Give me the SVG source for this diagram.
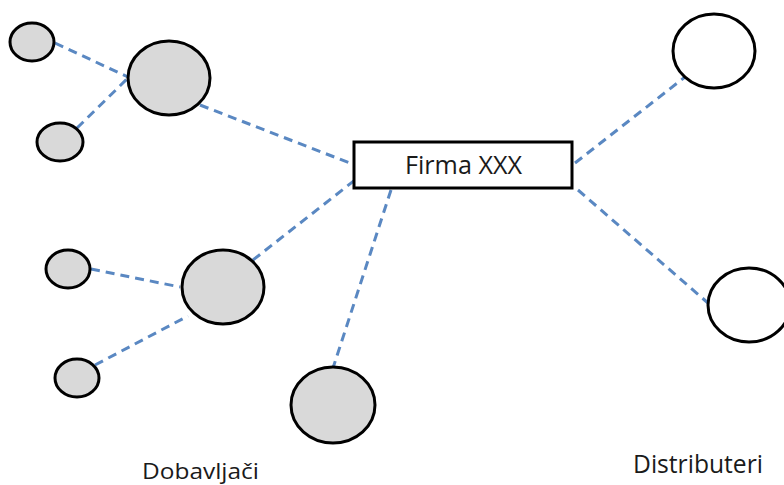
<svg xmlns="http://www.w3.org/2000/svg" width="784" height="485" viewBox="0 0 784 485">
<style>
.sup{fill:#d9d9d9;stroke:#000;stroke-width:3}
.dist{fill:#fff;stroke:#000;stroke-width:3}
.box{fill:#fff;stroke:#000;stroke-width:3}
.link{stroke:#5a88c2;stroke-width:3;stroke-dasharray:9 6;fill:none}
.lbl{font-family:"Open Sans","Liberation Sans",sans-serif;fill:#1a1a1a}
</style>
<rect width="784" height="485" fill="#fff"/>
<g id="connectors">
<line class="link" x1="55" y1="43" x2="128" y2="77"/>
<line class="link" x1="77" y1="128" x2="128" y2="78"/>
<line class="link" x1="200" y1="105" x2="355" y2="165"/>
<line class="link" x1="91" y1="269" x2="180" y2="287"/>
<line class="link" x1="95" y1="365" x2="188" y2="316"/>
<line class="link" x1="253" y1="260" x2="355" y2="180"/>
<line class="link" x1="391" y1="190" x2="333" y2="368"/>
<line class="link" x1="575" y1="163" x2="685" y2="77"/>
<line class="link" x1="578" y1="190" x2="708" y2="303"/>
</g>
<g id="sup-small-1"><ellipse class="sup" cx="32" cy="42" rx="22" ry="19"/></g>
<g id="sup-small-2"><ellipse class="sup" cx="60" cy="142" rx="23" ry="19"/></g>
<g id="sup-big-1"><ellipse class="sup" cx="169" cy="78" rx="41" ry="37"/></g>
<g id="sup-small-3"><ellipse class="sup" cx="68" cy="269" rx="22" ry="19"/></g>
<g id="sup-small-4"><ellipse class="sup" cx="77" cy="378" rx="22" ry="19"/></g>
<g id="sup-big-2"><ellipse class="sup" cx="223" cy="287" rx="41" ry="37"/></g>
<g id="sup-big-3"><ellipse class="sup" cx="333" cy="405" rx="42" ry="38"/></g>
<g id="dist-1"><ellipse class="dist" cx="714" cy="51" rx="41" ry="37"/></g>
<g id="dist-2"><ellipse class="dist" cx="749" cy="305" rx="41" ry="37"/></g>
<g id="firma">
<rect class="box" x="354" y="142" width="218" height="46"/>
<text class="lbl" x="405" y="174" font-size="25" textLength="117" lengthAdjust="spacingAndGlyphs">Firma XXX</text>
</g>
<g id="label-dobavljaci"><text class="lbl" x="142" y="479" font-size="22" textLength="117" lengthAdjust="spacingAndGlyphs">Dobavljači</text></g>
<g id="label-distributeri"><text class="lbl" x="633" y="473" font-size="25" textLength="130" lengthAdjust="spacingAndGlyphs">Distributeri</text></g>
</svg>
